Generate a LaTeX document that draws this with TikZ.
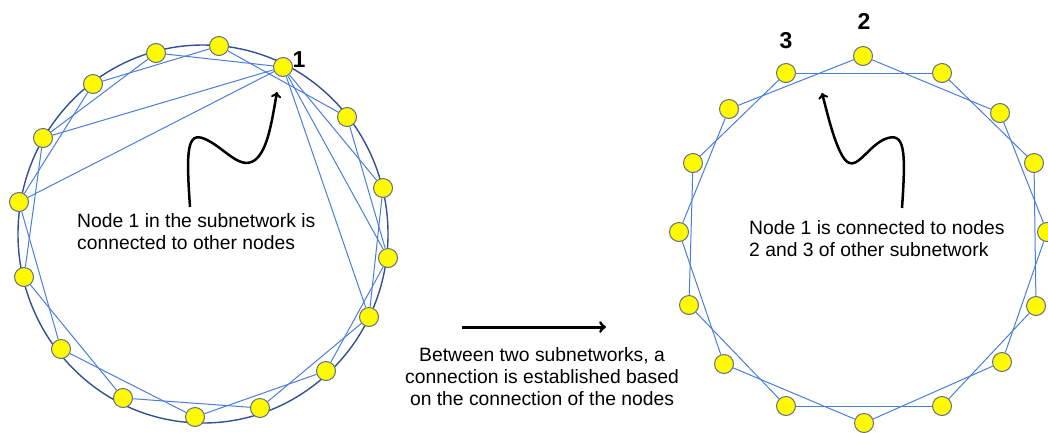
\documentclass[tikz,border=0pt]{standalone}
\usepackage{fontspec}
\setmainfont{Liberation Sans}

\definecolor{dotfill}{RGB}{255,250,0}
\definecolor{dotline}{RGB}{95,110,135}
\definecolor{linkblue}{RGB}{75,125,220}
\definecolor{ringblue}{RGB}{50,80,150}

\begin{document}
\begin{tikzpicture}[x=1pt,y=-1pt]
\tikzstyle{vertex}=[draw=dotline, fill=dotfill, circle, minimum size=19pt, inner sep=0pt, line width=1pt]
\tikzstyle{link}=[draw=linkblue, line width=1pt]
\tikzstyle{tag}=[font=\fontsize{23}{26}\selectfont\bfseries, inner sep=0pt]
\tikzstyle{note}=[font=\fontsize{19.3}{22}\selectfont, inner sep=0pt]
\tikzstyle{pointer}=[->, line width=2.5pt, black]

\useasboundingbox (0,0) rectangle (1048,432);

% left subnetwork
\draw[draw=ringblue, line width=1.4pt] (203,234) ellipse [x radius=185pt, y radius=189pt];

\draw (283,67) node[vertex] (a0) {};
\draw (219,46) node[vertex] (a1) {};
\draw (156,53) node[vertex] (a2) {};
\draw (93,84) node[vertex] (a3) {};
\draw (43,138) node[vertex] (a4) {};
\draw (19,202) node[vertex] (a5) {};
\draw (24,277) node[vertex] (a6) {};
\draw (61,349) node[vertex] (a7) {};
\draw (123,398) node[vertex] (a8) {};
\draw (195,417) node[vertex] (a9) {};
\draw (260,408) node[vertex] (a10) {};
\draw (326,371) node[vertex] (a11) {};
\draw (369,317) node[vertex] (a12) {};
\draw (388,258) node[vertex] (a13) {};
\draw (383,188) node[vertex] (a14) {};
\draw (347,117) node[vertex] (a15) {};

\draw[link] (a0) edge (a2);
\draw[link] (a1) edge (a3);
\draw[link] (a2) edge (a4);
\draw[link] (a3) edge (a5);
\draw[link] (a4) edge (a6);
\draw[link] (a5) edge (a7);
\draw[link] (a6) edge (a8);
\draw[link] (a7) edge (a9);
\draw[link] (a8) edge (a10);
\draw[link] (a9) edge (a11);
\draw[link] (a10) edge (a12);
\draw[link] (a11) edge (a13);
\draw[link] (a12) edge (a14);
\draw[link] (a13) edge (a15);
\draw[link] (a14) edge (a0);
\draw[link] (a15) edge (a1);
% extra links of node 1
\draw[link] (a0) edge (a4);
\draw[link] (a0) edge (a5);
\draw[link] (a0) edge (a12);
\draw[link] (a0) edge (a13);

\draw (299,60) node[tag] (one) {1};

\draw (77,232) node[note, anchor=west, align=left] (leftnote) {Node 1 in the subnetwork is\\connected to other nodes};
\coordinate (lfoot) at (190,207);
\coordinate (ltip) at (277,92);
\draw[pointer] (lfoot) .. controls (186,150) and (187,131) .. (205,139)
  .. controls (225,148) and (240,171) .. (255,160)
  .. controls (268,150) and (272,120) .. (ltip);

% middle
\coordinate (mstart) at (462,327);
\coordinate (mend) at (606,327);
\draw[pointer, line width=3pt] (mstart) -- (mend);
\draw (542,377) node[note, align=center] (midnote) {Between two subnetworks, a\\connection is established based\\on the connection of the nodes};

% right subnetwork
\draw (863,56) node[vertex] (b0) {};
\draw (786,73) node[vertex] (b1) {};
\draw (729,109) node[vertex] (b2) {};
\draw (693,163) node[vertex] (b3) {};
\draw (679,232) node[vertex] (b4) {};
\draw (689,305) node[vertex] (b5) {};
\draw (724,364) node[vertex] (b6) {};
\draw (786,406) node[vertex] (b7) {};
\draw (864,423) node[vertex] (b8) {};
\draw (942,406) node[vertex] (b9) {};
\draw (1002,362) node[vertex] (b10) {};
\draw (1036,306) node[vertex] (b11) {};
\draw (1047,232) node[vertex] (b12) {};
\draw (1034,163) node[vertex] (b13) {};
\draw (1000,113) node[vertex] (b14) {};
\draw (942,73) node[vertex] (b15) {};

\draw[link] (b0) edge (b2);
\draw[link] (b1) edge (b3);
\draw[link] (b2) edge (b4);
\draw[link] (b3) edge (b5);
\draw[link] (b4) edge (b6);
\draw[link] (b5) edge (b7);
\draw[link] (b6) edge (b8);
\draw[link] (b7) edge (b9);
\draw[link] (b8) edge (b10);
\draw[link] (b9) edge (b11);
\draw[link] (b10) edge (b12);
\draw[link] (b11) edge (b13);
\draw[link] (b12) edge (b14);
\draw[link] (b13) edge (b15);
\draw[link] (b14) edge (b0);
\draw[link] (b15) edge (b1);

\draw (864,21) node[tag] (two) {2};
\draw (786,41) node[tag] (three) {3};

\draw (749,239) node[note, anchor=west, align=left] (rightnote) {Node 1 is connected to nodes\\2 and 3 of other subnetwork};
\coordinate (rfoot) at (902,208);
\coordinate (rtip) at (822,93);
\draw[pointer] (rfoot) .. controls (906,150) and (905,131) .. (885,139)
  .. controls (866,147) and (855,176) .. (843,157)
  .. controls (834,142) and (828,116) .. (rtip);
\end{tikzpicture}
\end{document}
